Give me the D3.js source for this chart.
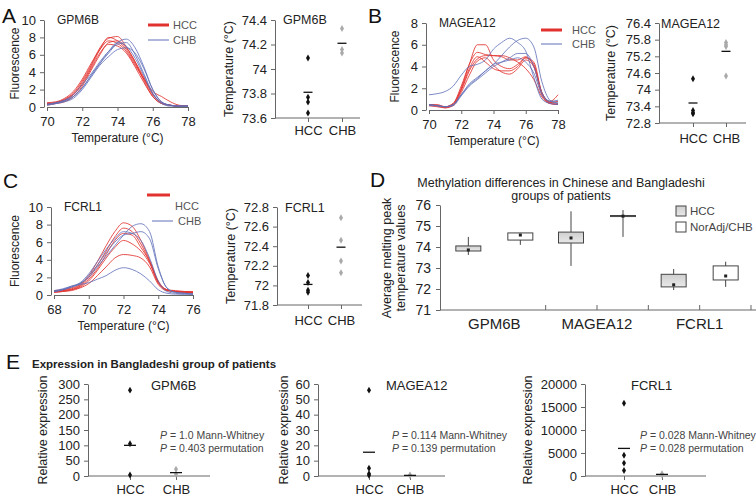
<!DOCTYPE html>
<html><head><meta charset="utf-8">
<script src="https://cdn.jsdelivr.net/npm/d3@7"></script>
<style>body{margin:0;background:#fff}svg text{font-family:"Liberation Sans",Arial,sans-serif}</style>
</head><body><svg id="c" width="756" height="500"></svg>
<script>
// ---------- DATA ----------
const tempsA = [70,70.5,71,71.5,72,72.5,73,73.5,74,74.5,75,75.5,76,76.5,77,77.5,78];
const tempsB = [70,70.5,71,71.5,72,72.5,73,73.5,74,74.5,75,75.5,76,76.5,77,77.5,78];
const tempsC = [68,68.5,69,69.5,70,70.5,71,71.5,72,72.5,73,73.5,74,74.5,75,75.5,76];

const meltA_HCC = [
 [0.4,0.5,0.8,1.4,2.8,4.6,6.6,8.0,7.6,6.6,5.0,3.2,1.4,0.5,0.2,0.1,0.1],
 [0.3,0.5,0.9,1.6,3.0,4.8,6.8,7.9,8.1,6.9,5.2,3.0,1.2,0.4,0.2,0.1,0.1],
 [0.5,0.6,1.0,1.8,3.2,5.0,6.6,7.6,7.3,6.4,4.8,3.2,1.8,1.2,0.6,0.2,0.1],
 [0.2,0.4,0.6,1.2,2.4,4.2,6.0,7.4,7.6,6.8,5.2,3.4,1.5,0.5,0.2,0.1,0.1],
 [0.4,0.5,0.8,1.5,2.6,4.4,6.2,7.2,7.0,6.2,4.6,2.8,1.2,0.4,0.2,0.1,0.1]];
const meltA_CHB = [
 [0.3,0.4,0.7,1.2,2.2,3.6,5.0,6.2,7.4,7.8,6.8,4.6,2.0,0.6,0.2,0.1,0.1],
 [0.3,0.4,0.6,1.0,2.0,3.4,4.8,5.8,6.6,6.8,6.2,4.4,2.0,0.6,0.2,0.1,0.1],
 [0.3,0.5,0.8,1.4,2.6,3.8,5.2,6.4,7.2,7.4,6.0,3.8,1.6,0.5,0.2,0.1,0.1],
 [0.2,0.4,0.7,1.2,2.2,3.6,5.0,6.4,7.4,7.0,5.6,3.6,1.5,0.4,0.1,0.1,0.1]];
const meltB_HCC = [
 [0.5,0.5,0.3,0.6,2.0,4.2,6.0,6.0,4.6,4.0,3.8,4.2,4.8,4.2,1.6,0.8,1.4],
 [0.5,0.4,0.3,0.6,2.2,4.2,5.3,5.1,5.0,4.9,4.6,4.6,4.9,4.0,1.6,0.7,0.8],
 [0.4,0.4,0.2,0.5,1.8,3.6,4.7,5.0,5.0,5.0,4.8,4.4,3.8,2.8,1.2,0.6,0.5],
 [0.5,0.4,0.3,0.5,1.9,3.8,4.9,4.4,3.8,3.6,3.6,4.0,4.8,4.4,1.6,0.7,0.6],
 [0.4,0.3,0.2,0.4,1.6,3.2,4.5,4.8,4.1,3.5,3.3,3.8,4.6,4.0,1.4,0.6,0.5]];
const meltB_CHB = [
 [1.4,1.5,1.7,2.2,3.2,4.0,4.2,4.6,5.6,6.2,6.6,6.2,5.4,3.0,1.0,0.6,0.5],
 [0.5,0.4,0.3,0.5,1.4,2.4,3.0,3.6,4.2,5.0,5.8,6.4,6.6,5.8,2.6,0.9,0.6],
 [0.5,0.4,0.3,0.4,1.3,2.2,2.8,3.4,4.0,4.4,4.8,5.2,5.2,4.0,1.6,0.8,0.7],
 [0.4,0.4,0.3,0.5,1.4,2.3,2.9,3.6,4.2,4.4,4.6,4.8,4.4,3.4,1.4,0.8,0.9]];
const meltC_HCC = [
 [0.5,0.6,0.8,1.2,2.2,3.8,5.6,7.2,8.2,7.8,6.2,4.0,1.6,0.6,0.5,0.4,0.3],
 [0.4,0.5,0.7,1.1,2.0,3.4,5.0,6.6,7.6,7.2,5.8,3.8,1.5,0.6,0.4,0.4,0.4],
 [0.3,0.4,0.6,0.9,1.6,2.8,4.2,5.4,6.2,5.8,5.0,3.6,1.4,0.6,0.4,0.3,0.3],
 [0.3,0.4,0.5,0.8,1.3,2.2,3.2,4.2,4.6,4.5,4.2,3.2,1.2,0.5,0.4,0.3,0.3],
 [0.4,0.5,0.6,1.0,1.8,3.0,4.6,6.2,7.0,6.8,5.4,3.8,1.4,0.5,0.4,0.3,0.2]];
const meltC_CHB = [
 [0.4,0.6,0.9,1.3,2.0,3.2,4.4,5.6,6.8,7.8,8.1,7.2,3.2,0.8,0.3,0.2,0.1],
 [0.4,0.6,0.9,1.3,2.2,3.4,4.8,6.0,6.8,7.0,7.2,6.4,3.0,0.8,0.3,0.2,0.1],
 [0.5,0.7,1.0,1.2,1.4,1.8,2.2,2.8,3.1,2.9,2.4,1.6,0.6,0.2,0.1,0.1,0.1],
 [0.4,0.6,1.0,1.4,2.4,3.8,5.2,6.4,7.2,7.0,6.2,4.2,1.6,0.4,0.2,0.1,0.1]];

const groups = ["HCC","CHB"];
const tmA_HCC = [74.09,73.77,73.73,73.64], tmA_HCCmean = 73.81;
const tmA_CHB = [74.33,74.16,74.13], tmA_CHBmean = 74.21;
const tmB_HCC = [74.39,73.25,73.17,73.13], tmB_HCCmean = 73.52;
const tmB_CHB = [75.70,75.62,75.55,74.49], tmB_CHBmean = 75.38;
const tmC_HCC = [72.10,72.03,71.95,71.93], tmC_HCCmean = 72.01;
const tmC_CHB = [72.69,72.46,72.25,72.13], tmC_CHBmean = 72.39;

const genes = ["GPM6B","MAGEA12","FCRL1"];
const boxSeries = ["HCC","NorAdj/CHB"];
// [whiskerLow, q1, median, q3, whiskerHigh]
const boxHCC = [[73.62,73.81,73.86,74.05,74.48],[73.10,74.19,74.43,74.71,75.70],[71.95,72.10,72.20,72.70,72.95]];
const boxCHB = [[74.10,74.33,74.57,74.67,74.67],[74.48,75.45,75.47,75.50,75.76],[72.10,72.43,72.62,73.10,73.30]];

const exprGPM6B_HCC = [280,105,3], exprGPM6B_HCCmean = 100;
const exprGPM6B_CHB = [22,6], exprGPM6B_CHBmean = 11;
const exprMAGEA12_HCC = [56,5,1.5,0.5], exprMAGEA12_HCCmean = 15.5;
const exprMAGEA12_CHB = [0.6,0.3], exprMAGEA12_CHBmean = 0.4;
const exprFCRL1_HCC = [15800,4500,2800,1200], exprFCRL1_HCCmean = 6000;
const exprFCRL1_CHB = [500,200], exprFCRL1_CHBmean = 350;
const pGPM6B = ["1.0 Mann-Whitney","0.403 permutation"];
const pMAGEA12 = ["0.114 Mann-Whitney","0.139 permutation"];
const pFCRL1 = ["0.028 Mann-Whitney","0.028 permutation"];

const ticksMeltA_x=[70,72,74,76,78], ticksMeltA_y=[0,2,4,6,8,10];
const ticksMeltB_x=[70,72,74,76,78], ticksMeltB_y=[0,2,4,6,8];
const ticksMeltC_x=[68,70,72,74,76], ticksMeltC_y=[0,2,4,6,8,10];
const ticksTmA=[73.6,73.8,74,74.2,74.4];
const ticksTmB=[72.8,73.4,74,74.6,75.2,75.8,76.4];
const ticksTmC=[71.8,72,72.2,72.4,72.6,72.8];
const ticksBox=[71,72,73,74,75,76];
const ticksE1=[0,50,100,150,200,250,300];
const ticksE2=[0,10,20,30,40,50,60];
const ticksE3=[0,5000,10000,15000,20000];

// ---------- DRAW ----------
const svg = d3.select("#c");
const RED="#e2322f", BLUE="#5f70b8", AX="#666", TXT="#222";

function styleAxis(g, fs){
  g.select(".domain").attr("stroke",AX).attr("stroke-width",1);
  g.selectAll(".tick line").attr("stroke",AX);
  g.selectAll(".tick text").attr("fill",TXT).style("font-size",fs+"px")
    .style("font-family","'Liberation Sans',Arial,sans-serif");
}
function txt(x,y,s,o={}){
  const t=svg.append("text").attr("x",x).attr("y",y).text(s)
    .style("font-size",(o.fs||12)+"px").attr("fill",o.fill||TXT)
    .attr("text-anchor",o.anchor||"start");
  if(o.weight) t.style("font-weight",o.weight);
  if(o.rot) t.attr("transform",`rotate(-90,${x},${y})`);
  return t;
}

function melt(o){
  const x=d3.scaleLinear().domain(o.xd).range(o.xr);
  const y=d3.scaleLinear().domain(o.yd).range(o.yr);
  const line=d3.line().x((d,i)=>x(o.temps[i])).y(d=>y(d)).curve(d3.curveMonotoneX);
  const g=svg.append("g");
  o.hcc.forEach(s=>g.append("path").attr("d",line(s)).attr("fill","none").attr("stroke",RED).attr("stroke-width",1).attr("opacity",0.85));
  o.chb.forEach(s=>g.append("path").attr("d",line(s)).attr("fill","none").attr("stroke",BLUE).attr("stroke-width",0.9).attr("opacity",0.9));
  const ax=svg.append("g").attr("transform",`translate(0,${o.yr[0]})`)
    .call(d3.axisBottom(x).tickValues(o.xt).tickSize(4).tickPadding(6).tickSizeOuter(0));
  styleAxis(ax,13);
  const ay=svg.append("g").attr("transform",`translate(${o.xr[0]-3},0)`)
    .call(d3.axisLeft(y).tickValues(o.yt).tickSize(4).tickPadding(4).tickSizeOuter(0));
  styleAxis(ay,13);
  txt(o.xr[0]+10,o.yr[1]+4,o.title,{fs:12});
  txt((o.xr[0]+o.xr[1])/2,o.yr[0]+35,"Temperature (°C)",{fs:12,anchor:"middle"});
  txt(o.ylx,(o.yr[0]+o.yr[1])/2,"Fluorescence",{fs:12,anchor:"middle",rot:true});
}

function scatter(o){
  const x=d3.scalePoint().domain(groups).range(o.cx);
  const y=d3.scaleLinear().domain(o.yd).range(o.yr);
  const ay=svg.append("g").attr("transform",`translate(${o.ax0},0)`)
    .call(d3.axisLeft(y).tickValues(o.yt).tickFormat(d=>String(d)).tickSize(4).tickPadding(4).tickSizeOuter(0));
  styleAxis(ay,o.fs||13);
  const ax=svg.append("g").attr("transform",`translate(0,${o.yr[0]})`)
    .call(d3.axisBottom(x).tickSize(4).tickPadding(o.xpad||4).tickSizeOuter(0));
  ax.select(".domain").attr("d",`M${o.ax0},0H${o.ax1}`);
  styleAxis(ax,o.fs||13);
  const sym=d3.symbol().type(d3.symbolDiamond).size(o.sz||14);
  [[o.hcc,"#111",o.hm,"HCC"],[o.chb,"#aaa",o.cm,"CHB"]].forEach(([vals,col,m,k])=>{
    vals.forEach(v=>svg.append("path").attr("d",sym()).attr("fill",col)
      .attr("transform",`translate(${x(k)},${y(v)})`));
    svg.append("line").attr("x1",x(k)-o.mw/2).attr("x2",x(k)+o.mw/2)
      .attr("y1",y(m)).attr("y2",y(m)).attr("stroke","#111").attr("stroke-width",1.3);
  });
  txt(o.tx,o.ty,o.title,{fs:o.tfs||12.5});
  txt(o.ylx,(o.yr[0]+o.yr[1])/2,o.ylab,{fs:o.yfs||12.5,anchor:"middle",rot:true});
}

// Panel letters
[["A",2,23],["B",368,23],["C",3,188],["D",370,187],["E",6,369]].forEach(([s,x,y])=>txt(x,y,s,{fs:21,fill:"#111"}));

// A
melt({temps:tempsA,hcc:meltA_HCC,chb:meltA_CHB,xd:[70,78],xr:[47,188],yd:[0,10],yr:[107,20],
  xt:ticksMeltA_x,yt:ticksMeltA_y,title:"GPM6B",ylx:19});
svg.append("line").attr("x1",148).attr("x2",169).attr("y1",25).attr("y2",25).attr("stroke",RED).attr("stroke-width",3);
txt(173,29,"HCC",{fs:11,fill:"#555"});
svg.append("line").attr("x1",148).attr("x2",169).attr("y1",40).attr("y2",40).attr("stroke",BLUE).attr("stroke-width",1);
txt(173,44,"CHB",{fs:11,fill:"#555"});
scatter({cx:[308,342],yd:[73.6,74.4],yr:[118,20],ax0:275,ax1:360,yt:ticksTmA,hcc:tmA_HCC,hm:tmA_HCCmean,
  chb:tmA_CHB,cm:tmA_CHBmean,mw:9,title:"GPM6B",tx:283,ty:24,ylab:"Temperature (°C)",ylx:233});

// B
melt({temps:tempsB,hcc:meltB_HCC,chb:meltB_CHB,xd:[70,78],xr:[429,558],yd:[0,8],yr:[110,23],
  xt:ticksMeltB_x,yt:ticksMeltB_y,title:"MAGEA12",ylx:399});
svg.append("line").attr("x1",541).attr("x2",562).attr("y1",30).attr("y2",30).attr("stroke",RED).attr("stroke-width",3);
txt(572,34,"HCC",{fs:11,fill:"#555"});
svg.append("line").attr("x1",541).attr("x2",562).attr("y1",44).attr("y2",44).attr("stroke",BLUE).attr("stroke-width",1);
txt(572,48,"CHB",{fs:11,fill:"#555"});
scatter({cx:[693,726],yd:[72.8,76.4],yr:[123,23],ax0:659,ax1:746,yt:ticksTmB,hcc:tmB_HCC,hm:tmB_HCCmean,
  chb:tmB_CHB,cm:tmB_CHBmean,mw:9,title:"MAGEA12",tx:661,ty:28,ylab:"Temperature (°C)",ylx:615,xpad:7});

// C
melt({temps:tempsC,hcc:meltC_HCC,chb:meltC_CHB,xd:[68,76],xr:[54,193],yd:[0,10],yr:[295,207],
  xt:ticksMeltC_x,yt:ticksMeltC_y,title:"FCRL1",ylx:19});
svg.append("line").attr("x1",147).attr("x2",170).attr("y1",195).attr("y2",195).attr("stroke",RED).attr("stroke-width",3);
txt(175,210,"HCC",{fs:11,fill:"#555"});
svg.append("line").attr("x1",152).attr("x2",173).attr("y1",221).attr("y2",221).attr("stroke",BLUE).attr("stroke-width",1);
txt(178,225,"CHB",{fs:11,fill:"#555"});
scatter({cx:[308,341],yd:[71.8,72.8],yr:[305,207],ax0:277,ax1:362,yt:ticksTmC,hcc:tmC_HCC,hm:tmC_HCCmean,
  chb:tmC_CHB,cm:tmC_CHBmean,mw:9,title:"FCRL1",tx:285,ty:212,ylab:"Temperature (°C)",ylx:235,xpad:7});

// D
(function(){
  const x=d3.scaleBand().domain(genes).range([443,751]);
  const sub=d3.scalePoint().domain(boxSeries).range([-26,26]);
  const y=d3.scaleLinear().domain([71,76]).range([310,205]);
  const ay=svg.append("g").attr("transform","translate(440,0)")
    .call(d3.axisLeft(y).tickValues(ticksBox).tickFormat(d3.format("d")).tickSize(4).tickPadding(5).tickSizeOuter(0));
  styleAxis(ay,14);
  const ax=svg.append("g").attr("transform","translate(0,310)")
    .call(d3.axisBottom(x).tickSize(0).tickPadding(8));
  ax.select(".domain").attr("d","M440,0H756");
  styleAxis(ax,15);
  genes.forEach((gname,i)=>{
    const c=x(gname)+x.bandwidth()/2;
    const tks=[c+x.bandwidth()/2]; if(i>0) tks.push(c);
    tks.forEach(t=>svg.append("line").attr("x1",t).attr("x2",t).attr("y1",305).attr("y2",310).attr("stroke",AX));
  });
  const defs=svg.append("defs");
  const gr=defs.append("linearGradient").attr("id","gbox").attr("x1",0).attr("x2",0).attr("y1",0).attr("y2",1);
  gr.append("stop").attr("offset",0).attr("stop-color","#cfcfcf");
  gr.append("stop").attr("offset",1).attr("stop-color","#e9e9e9");
  const bw=25;
  [[boxHCC,"url(#gbox)",boxSeries[0]],[boxCHB,"#fff",boxSeries[1]]].forEach(([data,fill,k])=>{
    data.forEach((b,i)=>{
      const cx=x(genes[i])+x.bandwidth()/2+sub(k);
      svg.append("line").attr("x1",cx).attr("x2",cx).attr("y1",y(b[0])).attr("y2",y(b[4])).attr("stroke","#444");
      svg.append("rect").attr("x",cx-bw/2).attr("width",bw).attr("y",y(b[3])).attr("height",Math.max(1,y(b[1])-y(b[3])))
        .attr("fill",fill).attr("stroke","#444").attr("stroke-width",1);
      svg.append("rect").attr("x",cx-1.5).attr("y",y(b[2])-1.5).attr("width",3).attr("height",3).attr("fill","#222");
    });
  });
  txt(561,187,"Methylation differences in Chinese and Bangladeshi",{fs:12.5,anchor:"middle"});
  txt(561,200,"groups of patients",{fs:12.5,anchor:"middle"});
  txt(391,258,"Average melting peak",{fs:12.5,anchor:"middle",rot:true});
  txt(405,258,"temperature values",{fs:12.5,anchor:"middle",rot:true});
  svg.append("rect").attr("x",676).attr("y",206).attr("width",10).attr("height",10).attr("fill","url(#gbox)").attr("stroke","#444");
  txt(690,215,boxSeries[0],{fs:11.5,fill:"#444"});
  svg.append("rect").attr("x",676).attr("y",222).attr("width",10).attr("height",10).attr("fill","#fff").attr("stroke","#444");
  txt(690,231,boxSeries[1],{fs:11.5,fill:"#444"});
})();

// E
txt(32,368,"Expression in Bangladeshi group of patients",{fs:11.5,weight:"bold",fill:"#222"});
function expr(o){
  scatter({cx:o.cx,yd:o.yd,yr:[476,384],ax0:o.ax0,ax1:o.ax1,yt:o.yt,hcc:o.hcc,hm:o.hm,chb:o.chb,cm:o.cm,
    mw:12,title:o.title,tx:o.tx,ty:390,tfs:13,ylab:"Relative expression",ylx:o.ylx,fs:13,yfs:12.5,sz:14,xpad:5});
  o.p.forEach((s,i)=>{
    const t=svg.append("text").attr("x",o.px).attr("y",439+i*12.5).style("font-size","10.5px").attr("fill","#444");
    t.append("tspan").style("font-style","italic").text("P");
    t.append("tspan").text(" = "+s);
  });
}
expr({cx:[130,176],yd:[0,300],ax0:88,ax1:210,yt:ticksE1,hcc:exprGPM6B_HCC,hm:exprGPM6B_HCCmean,chb:exprGPM6B_CHB,
  cm:exprGPM6B_CHBmean,title:"GPM6B",tx:151,ylx:47,px:160,p:pGPM6B});
expr({cx:[369,410],yd:[0,60],ax0:318,ax1:445,yt:ticksE2,hcc:exprMAGEA12_HCC,hm:exprMAGEA12_HCCmean,chb:exprMAGEA12_CHB,
  cm:exprMAGEA12_CHBmean,title:"MAGEA12",tx:386,ylx:288,px:392,p:pMAGEA12});
expr({cx:[624,662],yd:[0,20000],ax0:585,ax1:706,yt:ticksE3,hcc:exprFCRL1_HCC,hm:exprFCRL1_HCCmean,chb:exprFCRL1_CHB,
  cm:exprFCRL1_CHBmean,title:"FCRL1",tx:631,ylx:532,px:640,p:pFCRL1});
</script></body></html>
